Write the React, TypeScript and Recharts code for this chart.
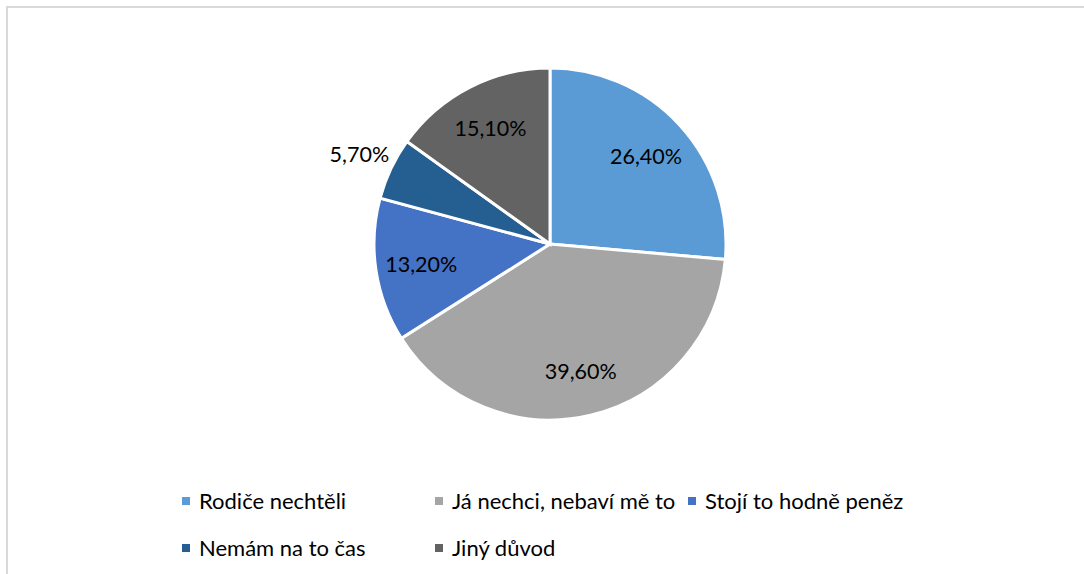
import { PieChart, Pie, Cell, Legend } from 'recharts'

const reasons = ['Rodiče nechtěli', 'Já nechci, nebaví mě to', 'Stojí to hodně peněz', 'Nemám na to čas', 'Jiný důvod']
const shares = [26.4, 39.6, 13.2, 5.7, 15.1]
const colors = ['#5B9BD5', '#A5A5A5', '#4472C4', '#255E91', '#636363']

const data = reasons.map((name, i) => ({ name, value: shares[i] }))

const RAD = Math.PI / 180
const FONT = 'Lato, "Open Sans", sans-serif'

const renderLabel = (props: any) => {
  const { cx, cy, midAngle, outerRadius, value } = props
  const outside = value < 10
  const r = outside ? outerRadius + 35 : outerRadius * 0.74
  const x = cx + r * Math.cos(-midAngle * RAD)
  const y = cy + r * Math.sin(-midAngle * RAD)
  return (
    <text
      x={x}
      y={y}
      textAnchor="middle"
      dominantBaseline="central"
      fill="#000"
      fontSize={21.5}
      fontFamily={FONT}
    >
      {value.toFixed(2).replace('.', ',')}%
    </text>
  )
}

// keep legend in data order (recharts 3 sorts the payload by name)
const renderLegend = () => (
  <div style={{ display: 'flex', flexWrap: 'wrap', fontFamily: FONT, fontSize: 22, color: '#000' }}>
    {reasons.map((name, i) => (
      <div key={name} style={{ width: 253, height: 47, display: 'flex', alignItems: 'center' }}>
        <span
          style={{ display: 'inline-block', width: 8, height: 8, background: colors[i], marginRight: 9 }}
        />
        <span>{name}</span>
      </div>
    ))}
  </div>
)

export default function App() {
  return (
    <div style={{ position: 'absolute', left: 0, top: 0, width: 1084, height: 574, background: '#fff', overflow: 'hidden' }}>
      <div
        style={{
          position: 'absolute',
          left: 6,
          top: 6,
          width: 1100,
          height: 600,
          border: '2px solid #d9d9d9',
        }}
      />
      <PieChart width={1084} height={574} margin={{ top: 0, right: 0, bottom: 0, left: 0 }}>
        <Pie
          data={data}
          dataKey="value"
          nameKey="name"
          cx={550}
          cy={244}
          outerRadius={176}
          startAngle={90}
          endAngle={-270}
          stroke="#fff"
          strokeWidth={3}
          label={renderLabel}
          labelLine={false}
          isAnimationActive={false}
        >
          {data.map((d, i) => (
            <Cell key={d.name} fill={colors[i]} />
          ))}
        </Pie>
        <Legend
          content={renderLegend}
          wrapperStyle={{ left: 182, top: 477, width: 780, bottom: 'auto' }}
        />
      </PieChart>
    </div>
  )
}
